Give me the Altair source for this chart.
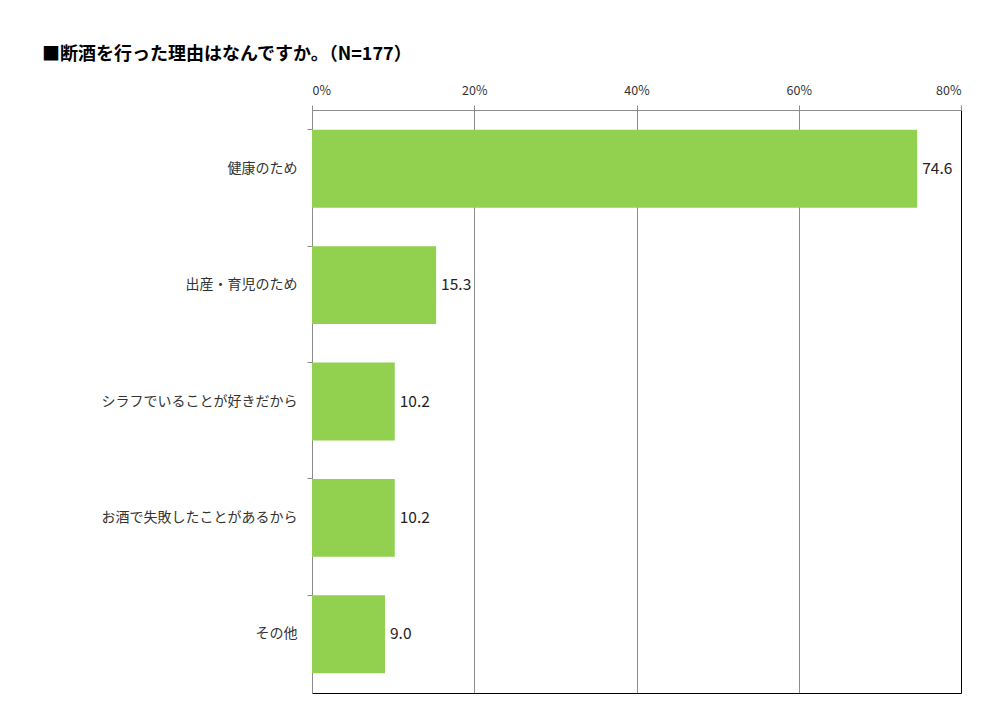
import altair as alt
import pandas as pd

# Survey answers: reasons for quitting alcohol (%), N=177
reasons = [
    "健康のため",
    "出産・育児のため",
    "シラフでいることが好きだから",
    "お酒で失敗したことがあるから",
    "その他",
]
shares = [74.6, 15.3, 10.2, 10.2, 9.0]
x_ticks = [0, 20, 40, 60, 80]

df = pd.DataFrame({"reason": reasons, "share": shares})
df["label"] = df["share"].map(lambda v: f"{v:.1f}")

FONT = "Noto Sans CJK JP"
GRID = "#8c8c8c"

y_enc = alt.Y(
    "reason:N",
    sort=reasons,
    title=None,
    scale=alt.Scale(paddingInner=0.33, paddingOuter=0.17),
    axis=alt.Axis(
        orient="left",
        bandPosition=0,
        domainColor=GRID,
        tickColor=GRID,
        tickSize=5,
        labelPadding=10,
        labelFontSize=14,
        labelLimit=0,
        labelColor="#333333",
        labelFont=FONT,
        grid=False,
    ),
)

x_scale = alt.Scale(domain=[0, 80], nice=False)

bars = alt.Chart(df).mark_bar(color="#92D050").encode(
    x=alt.X(
        "share:Q",
        scale=x_scale,
        title=None,
        axis=alt.Axis(
            orient="top",
            values=x_ticks,
            labelExpr="datum.value + '%'",
            domainColor=GRID,
            tickColor=GRID,
            tickSize=5,
            labelPadding=8,
            labelFontSize=12.5,
            labelColor="#333333",
            labelFont=FONT,
            grid=True,
            gridColor={"condition": {"test": "datum.value >= 80", "value": "#000000"}, "value": GRID},
        ),
    ),
    y=y_enc,
)

labels = alt.Chart(df).mark_text(
    align="left", baseline="middle", dx=5, fontSize=15.5, font=FONT, color="#222222"
).encode(
    x=alt.X(
        "share:Q",
        scale=x_scale,
        title=None,
        axis=alt.Axis(
            orient="bottom",
            labels=False,
            ticks=False,
            grid=False,
            domainColor="#000000",
            values=x_ticks,
        ),
    ),
    y=alt.Y("reason:N", sort=reasons),
    text="label:N",
)

chart = (
    alt.layer(bars, labels)
    .resolve_axis(x="independent")
    .resolve_scale(x="shared")
    .properties(
        width=649,
        height=583,
        padding={"left": 312, "top": 110, "right": 38, "bottom": 15},
        autosize=alt.AutoSizeParams(type="none"),
        title=alt.TitleParams(
            "■断酒を行った理由はなんですか。（N=177）",
            anchor="start",
            frame="group",
            dx=-270,
            offset=20,
            fontSize=18,
            fontWeight="bold",
            font=FONT,
            color="#000000",
        ),
    )
    .configure_view(stroke=None)
)

chart.save("out.html", embed_options={"renderer": "svg", "actions": False})
